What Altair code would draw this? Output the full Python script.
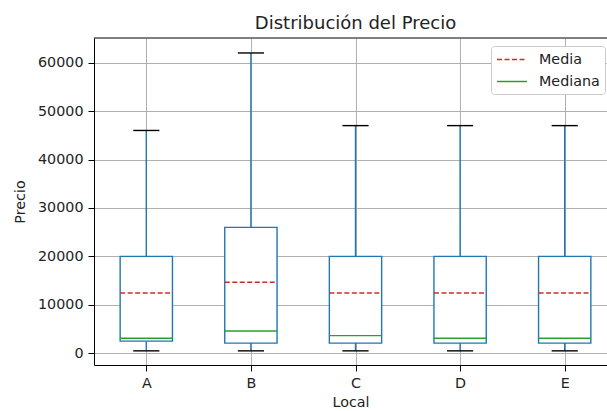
import altair as alt
import pandas as pd

# Summary statistics of price per store
locales = ["A", "B", "C", "D", "E"]
minimo = [500, 500, 500, 500, 500]
q1 = [2500, 2100, 2100, 2100, 2100]
mediana = [3100, 4600, 3650, 3100, 3100]
media = [12450, 14650, 12450, 12450, 12450]
q3 = [20000, 26000, 20000, 20000, 20000]
maximo = [46000, 62000, 47000, 47000, 47000]

FONT = "DejaVu Sans"
BLUE = "#1f77b4"
W, H = 513, 327

stats = pd.DataFrame({
    "local": locales,
    "pos": list(range(1, len(locales) + 1)),
    "minimo": minimo, "q1": q1, "q3": q3, "maximo": maximo,
})

lines = pd.DataFrame({
    "pos": list(range(1, len(locales) + 1)) * 2,
    "serie": ["Media"] * len(locales) + ["Mediana"] * len(locales),
    "valor": media + mediana,
})

x_scale = alt.Scale(domain=[0.5, 0.5 + W / 104.6], nice=False, zero=False)
y_scale = alt.Scale(domain=[-2420, 65090], nice=False, zero=False)

x_axis = alt.Axis(
    values=list(range(1, len(locales) + 1)),
    labelExpr="['A','B','C','D','E'][datum.value - 1]",
    title="Local", grid=True,
)
y_axis = alt.Axis(values=list(range(0, 60001, 10000)), title="Precio",
                  grid=True, format="d")

base = alt.Chart(stats).transform_calculate(
    lo="datum.pos - 0.25", hi="datum.pos + 0.25",
    clo="datum.pos - 0.125", chi="datum.pos + 0.125",
)

whisker = base.mark_rule(color=BLUE, strokeWidth=1.4).encode(
    x=alt.X("pos:Q", scale=x_scale, axis=x_axis),
    y=alt.Y("minimo:Q", scale=y_scale, axis=y_axis),
    y2="maximo:Q",
)

box = base.mark_rect(fill="white", stroke=BLUE, strokeWidth=1.4).encode(
    x="lo:Q", x2="hi:Q", y="q1:Q", y2="q3:Q",
)

cap_lo = base.mark_rule(color="black", strokeWidth=1.4).encode(
    x="clo:Q", x2="chi:Q", y="minimo:Q",
)
cap_hi = base.mark_rule(color="black", strokeWidth=1.4).encode(
    x="clo:Q", x2="chi:Q", y="maximo:Q",
)

legend = alt.Legend(
    title=None, orient="none", legendX=397, legendY=8,
    symbolType="M-2,0H2", symbolSize=225, symbolStrokeWidth=1.4,
    symbolOffset=7.5,
    labelFont=FONT, labelFontSize=14.3, labelColor="#222222",
    labelOffset=18.5, rowPadding=6, padding=5,
    strokeColor="#cccccc", fillColor="white", cornerRadius=3,
)

center = alt.Chart(lines).transform_calculate(
    lo="datum.pos - 0.25", hi="datum.pos + 0.25",
).mark_rule(strokeWidth=1.4).encode(
    x="lo:Q", x2="hi:Q", y="valor:Q",
    color=alt.Color(
        "serie:N",
        scale=alt.Scale(domain=["Media", "Mediana"], range=["#d62728", "#2ca02c"]),
        legend=legend,
    ),
    strokeDash=alt.StrokeDash(
        "serie:N",
        scale=alt.Scale(domain=["Media", "Mediana"], range=[[5, 2.5], [1, 0]]),
        legend=legend,
    ),
)

top_border = alt.Chart(alt.Data(values=[{"k": 0}])).mark_rule(
    color="black", strokeWidth=1
).encode(x=alt.value(0), x2=alt.value(W), y=alt.value(0))

chart = alt.layer(whisker, box, cap_lo, cap_hi, center, top_border).properties(
    width=W, height=H,
    title=alt.TitleParams("Distribución del Precio", font=FONT, fontSize=18,
                          fontWeight="normal", color="#222222", anchor="middle",
                          dx=5, offset=5),
    autosize=alt.AutoSizeParams(type="none"),
    padding={"left": 94, "top": 38, "right": 0, "bottom": 46},
).configure_view(stroke=None).configure_axis(
    labelFont=FONT, labelFontSize=14.3, labelColor="#222222",
    titleFont=FONT, titleFontSize=14.3, titleFontWeight="normal", titleColor="#222222",
    domainColor="black", domainWidth=1, tickColor="black", tickSize=6, tickWidth=1,
    gridColor="#b0b0b0", gridWidth=1, labelPadding=5,
).configure_axisX(titlePadding=5).configure_axisY(titlePadding=10)

chart.save("out.html", embed_options={"renderer": "svg", "actions": False})
